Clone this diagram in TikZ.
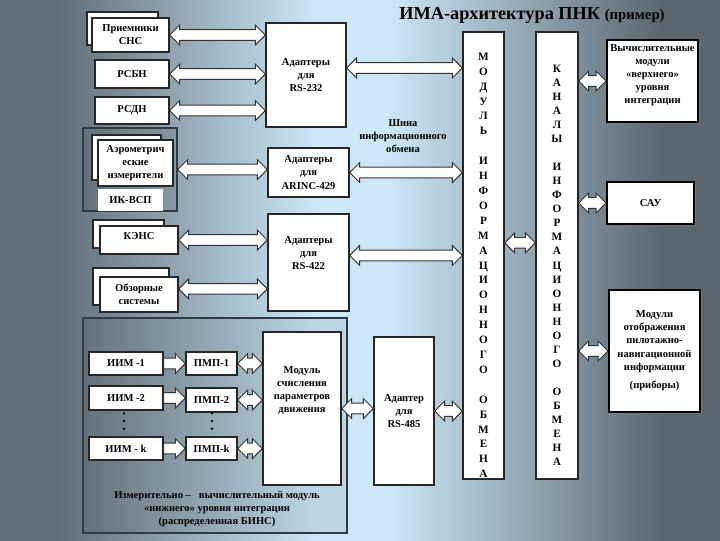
\documentclass[tikz,border=0pt]{standalone}
\usepackage{fontspec}
\setmainfont{Liberation Serif}
\usetikzlibrary{calc,shadows}

\definecolor{bgleft}{RGB}{96,110,120}
\definecolor{bgmid}{RGB}{205,231,246}
\definecolor{bgright}{RGB}{90,102,112}
\definecolor{framecol}{RGB}{48,58,68}

\pgfdeclarehorizontalshading{imabg}{100bp}{color(0bp)=(bgleft); color(25bp)=(bgleft); color(29bp)=(bgleft); color(47bp)=(bgmid); color(52bp)=(bgmid); color(71bp)=(bgright); color(75bp)=(bgright); color(100bp)=(bgright)}

\tikzset{
	sz/.style 2 args={minimum width=#1*0.025cm, minimum height=#2*0.025cm},
	txt/.style={align=center, font=\bfseries\fontsize{7.5}{9.3}\selectfont},
	box/.style={txt, draw=black!85, line width=1pt, fill=white, inner sep=1pt},
	backbox/.style={draw=black!85, line width=1pt, fill=white},
	bigbox/.style={box, draw=black, line width=1.5pt, drop shadow={shadow xshift=1.3pt, shadow yshift=-1.3pt, opacity=0.7}},
	frame/.style={draw=framecol, line width=1pt, fill=black, fill opacity=0.07},
	column/.style={draw=black!85, line width=1pt, fill=white},
	colfont/.style={align=center, font=\bfseries\fontsize{8}{#1}\selectfont},
	blockarrow/.style={draw=black!80, line width=0.7pt, fill=white}
}

\newcommand{\biarrow}[2]{%
	\path[blockarrow] let \p1=(#1), \p2=(#2) in
		(\x1,\y1) -- (\x1+7pt,\y1+7pt) -- (\x1+7pt,\y1+3.8pt) -- (\x2-7pt,\y1+3.8pt)
		-- (\x2-7pt,\y1+7pt) -- (\x2,\y1) -- (\x2-7pt,\y1-7pt) -- (\x2-7pt,\y1-3.8pt)
		-- (\x1+7pt,\y1-3.8pt) -- (\x1+7pt,\y1-7pt) -- cycle;}
\newcommand{\onearrow}[2]{%
	\path[blockarrow] let \p1=(#1), \p2=(#2) in
		(\x1,\y1+3.8pt) -- (\x2-7pt,\y1+3.8pt) -- (\x2-7pt,\y1+7pt) -- (\x2,\y1)
		-- (\x2-7pt,\y1-7pt) -- (\x2-7pt,\y1-3.8pt) -- (\x1,\y1-3.8pt) -- cycle;}

\begin{document}
\begin{tikzpicture}[x=0.025cm, y=-0.025cm]
	\shade[shading=imabg] (0,0) rectangle (720,540);

	\node [txt, font=\bfseries\fontsize{13}{15}\selectfont] (title) at (532,15) {ИМА-архитектура ПНК \fontsize{10.5}{12}\selectfont(пример)};

	\node [backbox, sz={71}{33}] (snsB) at (122.5,28.5) {};
	\node [box, sz={77}{34}] (sns) at (130.5,35) {Приемники\\СНС};
	\node [box, sz={74}{28}] (rsbn) at (132,74) {РСБН};
	\node [box, sz={74}{27}] (rsdn) at (132,110.5) {РСДН};

	\node [frame, sz={94}{83}] (ikvsp) at (130,169.5) {};
	\node [backbox, sz={69}{45}] (aeroB) at (126.5,157.5) {};
	\node [box, sz={75}{46}] (aero) at (135.5,163) {Аэрометрич\\еские\\измерители};
	\node [box, draw=none, sz={65}{22}] (ikvspL) at (130.5,200) {ИК-ВСП};

	\node [backbox, sz={71}{28}] (kensB) at (128.5,234) {};
	\node [box, sz={78}{28}, label={[txt, yshift=3pt]center:КЭНС}] (kens) at (139,240) {};
	\node [backbox, sz={76}{37}] (obzB) at (131,286.5) {};
	\node [box, sz={78}{35}] (obz) at (139,294.5) {Обзорные\\системы};

	\node [box, sz={80}{104}] (rs232) at (306,75) {Адаптеры\\для\\RS-232};
	\node [box, sz={81}{49}] (arinc) at (308.5,172.5) {Адаптеры\\для\\ARINC-429};
	\node [box, sz={81}{97}, label={[txt, yshift=7pt]center:{Адаптеры\\для\\RS-422}}] (rs422) at (308.5,262.5) {};

	\node [frame, sz={264}{215}] (bins) at (215,425.5) {};
	\node [box, sz={74}{23}] (iim1) at (126,363.5) {ИИМ -1};
	\node [box, sz={74}{24}] (iim2) at (126,398) {ИИМ -2};
	\node [box, sz={74}{23}] (iimk) at (126,448.5) {ИИМ - k};
	\node [box, sz={51}{23}] (pmp1) at (211.5,363.5) {ПМП-1};
	\node [box, sz={51}{24}] (pmp2) at (211.5,400) {ПМП-2};
	\node [box, sz={51}{23}] (pmpk) at (211.5,448.5) {ПМП-k};
	\coordinate (dotsA) at (124,421);
	\coordinate (dotsB) at (212,421);
	\foreach \d in {-5.5,0,5.5} {
		\fill ([yshift=\d pt]dotsA) circle [radius=0.9pt];
		\fill ([yshift=\d pt]dotsB) circle [radius=0.9pt];
	}
	\node [box, sz={78}{153}, label={[txt, yshift=13pt]center:{Модуль\\счисления\\параметров\\движения}}] (calc) at (302,408.5) {};
	\node [txt] (binsL) at (217,509) {Измерительно –\ \ \ вычислительный модуль\\«нижнего» уровня интеграции\\(распределенная БИНС)};

	\node [box, sz={60}{148}] (rs485) at (404,411) {Адаптер\\для\\RS-485};
	\node [txt] (bus) at (403,136) {Шина\\информационного\\обмена};

	\node [column, sz={41}{447}, label={[colfont=10.6pt, yshift=-7pt]center:{М\\О\\Д\\У\\Л\\Ь\\[10.6pt]И\\Н\\Ф\\О\\Р\\М\\А\\Ц\\И\\О\\Н\\Н\\О\\Г\\О\\[10.6pt]О\\Б\\М\\Е\\Н\\А}}] (mio) at (483.5,255.5) {};
	\node [column, sz={42}{447}, label={[colfont=10pt, yshift=-7pt]center:{К\\А\\Н\\А\\Л\\Ы\\[10pt]И\\Н\\Ф\\О\\Р\\М\\А\\Ц\\И\\О\\Н\\Н\\О\\Г\\О\\[10pt]О\\Б\\М\\Е\\Н\\А}}] (kio) at (557,255.5) {};

	\node [bigbox, sz={91}{82}, label={[txt, yshift=4pt]center:{Вычислительные\\модули\\«верхнего»\\уровня\\интеграции}}] (vm) at (652.5,81) {};
	\node [bigbox, sz={87}{42}] (sau) at (650.5,203) {САУ};
	\node [bigbox, sz={91}{122}] (disp) at (654.5,351) {Модули\\отображения\\пилотажно-\\навигационной\\информации\\[4pt](приборы)};

	\biarrow{sns.east}{rs232.west}
	\biarrow{rsbn.east}{rs232.west}
	\biarrow{rsdn.east}{rs232.west}
	\biarrow{ikvsp.east}{arinc.west}
	\biarrow{kens.east}{rs422.west}
	\biarrow{[yshift=4pt]obz.east}{rs422.west}

	\biarrow{[yshift=5pt]rs232.east}{mio.west}
	\biarrow{arinc.east}{mio.west}
	\biarrow{[yshift=5pt]rs422.east}{mio.west}

	\onearrow{iim1.east}{pmp1.west}
	\onearrow{iim2.east}{pmp2.west}
	\onearrow{iimk.east}{pmpk.west}
	\biarrow{pmp1.east}{calc.west}
	\biarrow{pmp2.east}{calc.west}
	\biarrow{pmpk.east}{calc.west}
	\biarrow{calc.east}{rs485.west}
	\biarrow{rs485.east}{mio.west}

	\biarrow{[yshift=9pt]mio.east}{kio.west}
	\biarrow{kio.east |- vm.west}{vm.west}
	\biarrow{kio.east |- sau.west}{sau.west}
	\biarrow{kio.east |- disp.west}{disp.west}
\end{tikzpicture}
\end{document}
